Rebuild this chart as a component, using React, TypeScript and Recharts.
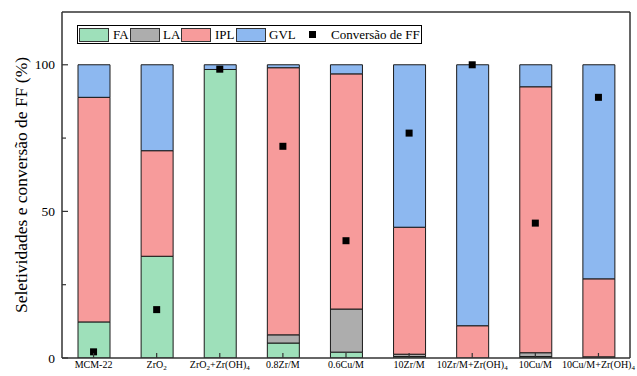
import { ComposedChart, Bar, Line, XAxis, YAxis } from 'recharts';

const categories = [
  'MCM-22',
  'ZrO2',
  'ZrO2+Zr(OH)4',
  '0.8Zr/M',
  '0.6Cu/M',
  '10Zr/M',
  '10Zr/M+Zr(OH)4',
  '10Cu/M',
  '10Cu/M+Zr(OH)4',
];
const fa = [12.3, 34.7, 98.4, 5.1, 2.0, 0.5, 0, 0.5, 0];
const la = [0, 0, 0, 2.8, 14.7, 0.8, 0, 1.3, 0.4];
const ipl = [76.6, 36.0, 0, 91.1, 80.2, 43.3, 11.0, 90.7, 26.6];
const gvl = [11.1, 29.3, 1.6, 1.0, 3.1, 55.4, 89.0, 7.5, 73.0];
const conversion = [2.1, 16.5, 98.5, 72.2, 40.0, 76.7, 100, 46.0, 88.9];
const yTicks = [0, 25, 50, 75, 100];

const FONT = '"Liberation Serif", "Times New Roman", serif';
const AXIS = '#333';
const COLORS = { fa: '#9ee0ba', la: '#adadad', ipl: '#f79b9b', gvl: '#8db8f0' };

const data = categories.map((name, i) => ({
  name,
  fa: fa[i],
  la: la[i],
  ipl: ipl[i],
  gvl: gvl[i],
  conv: conversion[i],
}));

// "ZrO2" / "(OH)4" -> chemical subscripts, as flat tspans
function renderLabel(label: string) {
  const parts = label.split(/(O2|\)4)/).filter((s) => s !== '');
  const out: any[] = [];
  let lowered = false;
  parts.forEach((p, i) => {
    if (p === 'O2' || p === ')4') {
      out.push(<tspan key={`${i}a`} dy={lowered ? -2 : 0}>{p[0]}</tspan>);
      out.push(<tspan key={`${i}b`} fontSize={7} dy={2}>{p[1]}</tspan>);
      lowered = true;
    } else {
      out.push(<tspan key={i} dy={lowered ? -2 : 0}>{p}</tspan>);
      lowered = false;
    }
  });
  return out;
}

const XTick = (props: any) => {
  const { x, y, payload } = props;
  return (
    <g>
      <line x1={x} x2={x} y1={y} y2={y - 5} stroke={AXIS} strokeWidth={1.2} />
      <text x={x} y={y + 9.5} textAnchor="middle" fontFamily={FONT} fontSize={10} fill="#000">
        {renderLabel(payload.value)}
      </text>
    </g>
  );
};

const YTick = (props: any) => {
  const { x, y, payload } = props;
  const major = payload.value % 50 === 0;
  return (
    <g>
      <line x1={x} x2={x + (major ? 6 : 4)} y1={y} y2={y} stroke={AXIS} strokeWidth={1.2} />
      {major && (
        <text x={x - 7} y={y} dy={4.5} textAnchor="end" fontFamily={FONT} fontSize={13.5} fill="#000">
          {payload.value}
        </text>
      )}
    </g>
  );
};

const SquareDot = (props: any) => {
  const { cx, cy, index } = props;
  return <rect key={`dot-${index}`} x={cx - 3.5} y={cy - 3.5} width={7} height={7} fill="#000" />;
};

const legendItems = [
  { label: 'FA', color: COLORS.fa, sw: 1, tx: 35 },
  { label: 'LA', color: COLORS.la, sw: 52, tx: 85 },
  { label: 'IPL', color: COLORS.ipl, sw: 103, tx: 137 },
  { label: 'GVL', color: COLORS.gvl, sw: 158, tx: 191 },
];

export default function App() {
  return (
    <div style={{ position: 'absolute', left: 0, top: 0, width: 637, height: 376, background: '#fff' }}>
      <ComposedChart
        width={637}
        height={376}
        data={data}
        margin={{ top: 11, right: 6, bottom: 0, left: 0 }}
        barSize={32}
      >
        <XAxis
          dataKey="name"
          height={18}
          tick={<XTick />}
          tickSize={0}
          tickMargin={0}
          tickLine={false}
          axisLine={{ stroke: AXIS, strokeWidth: 1.5 }}
          interval={0}
        />
        <XAxis
          xAxisId="top"
          dataKey="name"
          orientation="top"
          height={1}
          tick={false}
          tickLine={false}
          axisLine={{ stroke: AXIS, strokeWidth: 1.5 }}
        />
        <YAxis
          width={62}
          domain={[0, 118]}
          ticks={yTicks}
          tick={<YTick />}
          tickSize={0}
          tickMargin={0}
          tickLine={false}
          axisLine={{ stroke: AXIS, strokeWidth: 1.5 }}
          allowDataOverflow
        />
        <YAxis
          yAxisId="right"
          orientation="right"
          width={1}
          domain={[0, 118]}
          tick={false}
          tickLine={false}
          axisLine={{ stroke: AXIS, strokeWidth: 1.5 }}
        />
        <Bar dataKey="fa" stackId="s" fill={COLORS.fa} stroke="#1a1a1a" strokeWidth={1} isAnimationActive={false} />
        <Bar dataKey="la" stackId="s" fill={COLORS.la} stroke="#1a1a1a" strokeWidth={1} isAnimationActive={false} />
        <Bar dataKey="ipl" stackId="s" fill={COLORS.ipl} stroke="#1a1a1a" strokeWidth={1} isAnimationActive={false} />
        <Bar dataKey="gvl" stackId="s" fill={COLORS.gvl} stroke="#1a1a1a" strokeWidth={1} isAnimationActive={false} />
        <Line
          dataKey="conv"
          stroke="none"
          dot={<SquareDot />}
          activeDot={false}
          legendType="none"
          isAnimationActive={false}
        />
      </ComposedChart>

      <svg
        width={637}
        height={376}
        style={{ position: 'absolute', left: 0, top: 0, pointerEvents: 'none' }}
      >
        <text
          transform="translate(27,185) rotate(-90)"
          textAnchor="middle"
          fontFamily={FONT}
          fontSize={17.5}
          fill="#000"
        >
          Seletividades e conversão de FF (%)
        </text>
      </svg>

      <div
        style={{
          position: 'absolute',
          left: 77,
          top: 25,
          width: 345,
          height: 19,
          border: '1px solid #000',
          boxSizing: 'border-box',
          background: '#fff',
          fontFamily: FONT,
          fontSize: 13,
          color: '#000',
        }}
      >
        {legendItems.map((it) => (
          <div key={it.label}>
            <div
              style={{
                position: 'absolute',
                left: it.sw,
                top: 2,
                width: 30,
                height: 14,
                background: it.color,
                border: '1px solid #333',
                boxSizing: 'border-box',
              }}
            />
            <div style={{ position: 'absolute', left: it.tx, top: 1, lineHeight: '16px' }}>{it.label}</div>
          </div>
        ))}
        <div style={{ position: 'absolute', left: 231, top: 5, width: 7, height: 7, background: '#000' }} />
        <div style={{ position: 'absolute', left: 253, top: 1, lineHeight: '16px', whiteSpace: 'nowrap' }}>
          Conversão de FF
        </div>
      </div>
    </div>
  );
}
